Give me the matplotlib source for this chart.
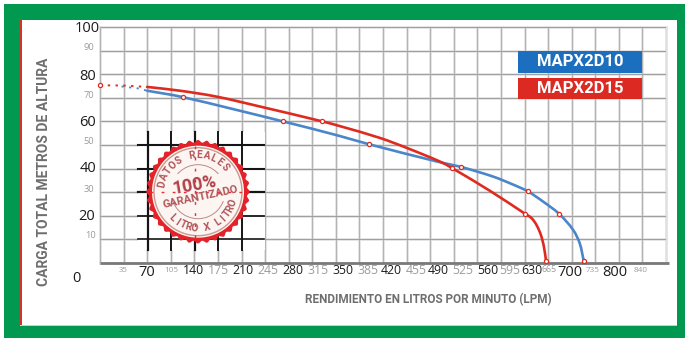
import numpy as np
import matplotlib
matplotlib.use("Agg")
import matplotlib.pyplot as plt
from matplotlib.patches import Rectangle, Circle, Polygon, PathPatch
from matplotlib.path import Path

# ---------- data ----------
blue_x = [70, 122.7, 271.5, 356, 399.5, 504.5, 536, 583.5, 610.8, 634.6, 657.7, 681.5, 702.2, 712, 718]
blue_y = [73, 70.3, 60, 53.8, 50.3, 42.7, 40.7, 36.6, 33.5, 30.4, 26, 20.8, 14, 8.3, 0.8]
red_x = [70, 118.7, 173, 237.4, 330, 356, 415.4, 455, 504.4, 522, 578.6, 630.6, 640.5, 648, 654.3, 658.8, 662]
red_y = [74.6, 73, 70.5, 66.3, 60, 58, 53, 48.8, 43, 40.3, 30.6, 20.9, 19, 16, 11.9, 6.9, 0.8]
blue_dot_x = [32, 44.5, 56, 70]
blue_dot_y = [74.8, 74.4, 74, 73]
red_dot_x = [0, 35, 70]
red_dot_y = [75.3, 75.2, 74.6]
marker_x = [0, 122.7, 271.5, 330, 399.5, 522, 536, 630.6, 634.6, 681.5, 662, 718]
marker_y = [75.3, 70.3, 60, 60, 50.3, 40.3, 40.7, 20.9, 30.4, 20.8, 0.8, 0.8]

x_grid = list(range(0, 841, 35))
y_grid = list(range(0, 101, 10))

x_labels = ["35", "70", "105", "140", "175", "210", "245", "280", "315", "350", "385", "420",
            "455", "490", "525", "560", "595", "630", "665", "700", "735", "800", "840"]
x_label_px = [123, 147, 171, 193, 218, 243, 268, 293, 318, 343, 368, 391,
              416, 438, 463, 488, 510, 532, 549, 570, 593, 615, 641]
x_label_size = [5.6, 10.5, 5.9, 8.8, 8.8, 8.8, 8.8, 8.8, 8.8, 8.8, 8.8, 8.8,
                8.8, 8.8, 8.8, 8.8, 8.8, 8.8, 6.4, 10.5, 5.9, 10.5, 5.9]
x_label_dark = [0, 1, 0, 1, 0, 1, 0, 1, 0, 1, 0, 1, 0, 1, 0, 1, 0, 1, 0, 1, 0, 1, 0]

y_labels = ["100", "90", "80", "70", "60", "50", "40", "30", "20", "10"]
y_label_py = [28, 48, 77, 95, 122, 141, 168, 190, 216, 235]
y_label_right = [100, 94, 96, 94, 96, 94, 96, 94, 95, 96]

legend_names = ["MAPX2D10", "MAPX2D15"]
legend_colors = ["#1b6fbe", "#dc2a22"]

GREEN = "#01994f"
BLUE = "#4a86c9"
RED = "#df2a20"
DARK = "#1c1c1c"
LIGHT = "#9c9c9c"
FONT = "Open Sans"

W, H = 685, 338
fig = plt.figure(figsize=(W / 100, H / 100), dpi=100, facecolor="white")

# background layer in pixel coordinates
bg = fig.add_axes([0, 0, 1, 1], zorder=0)
bg.set_xlim(0, W); bg.set_ylim(H, 0); bg.axis("off")
bg.add_patch(Rectangle((4, 4), W - 4, H - 4, fc=GREEN, ec="none"))
bg.add_patch(Rectangle((20, 20), 657, 306, fc="white", ec="none"))
bg.add_patch(Rectangle((20, 20), 1.6, 306, fc="#d9302a", ec="none"))
bg.add_patch(Rectangle((20, 325), 657, 1, fc="#e3c9a8", ec="none"))

# chart
ax = fig.add_axes([100 / W, (H - 263) / H, 566 / W, 236 / H], zorder=1)
ax.set_xlim(0, 840); ax.set_ylim(0, 100)
ax.patch.set_alpha(0)
for s in ax.spines.values():
    s.set_visible(False)
ax.set_xticks(x_grid); ax.set_yticks(y_grid)
ax.tick_params(length=0, labelbottom=False, labelleft=False)
ax.grid(True, color="#e0e0e0", lw=1.9, clip_on=False)
ax.set_axisbelow(True)
ax.vlines(x_grid, 0, 100, color="#ababab", lw=0.6, zorder=0.9)
ax.hlines(y_grid, 0, 840, color="#9e9e9e", lw=0.7, zorder=0.9)
ax.plot([0, 845], [0, 0], color="#7a7a7a", lw=2.0, clip_on=False, zorder=1.5, solid_capstyle="butt")


def smooth_line(xs, ys, color, lw, z):
    """Stroke the read points as one smooth path (Bezier segments through each point)."""
    sx, sy = 566 / 840, 236 / 100
    p = np.c_[np.array(xs) * sx, np.array(ys) * sy]
    d = np.r_[[p[1] - p[0]], p[2:] - p[:-2], [p[-1] - p[-2]]]
    d = d / np.linalg.norm(d, axis=1, keepdims=True)
    verts, codes = [p[0]], [Path.MOVETO]
    for i in range(len(p) - 1):
        L = np.linalg.norm(p[i + 1] - p[i]) / 3
        verts += [p[i] + d[i] * L, p[i + 1] - d[i + 1] * L, p[i + 1]]
        codes += [Path.CURVE4] * 3
    v = np.array(verts) / [sx, sy]
    ax.add_patch(PathPatch(Path(v, codes), fc="none", ec=color, lw=lw, capstyle="round", zorder=z))


smooth_line(blue_x, blue_y, BLUE, 1.9, 3)
smooth_line(red_x, red_y, RED, 1.9, 4)
ax.plot(blue_dot_x, blue_dot_y, color=BLUE, lw=1.3, ls=(0, (1.2, 3.0)), zorder=3)
ax.plot(red_dot_x, red_dot_y, color=RED, lw=1.4, ls=(0, (1.2, 2.8)), zorder=4)
ax.plot(marker_x, marker_y, ls="none", marker="o", ms=3.0, mfc="white", mec=RED, mew=0.9,
        zorder=5, clip_on=False)

# overlay layer for stamp and texts (pixel coordinates)
ov = fig.add_axes([0, 0, 1, 1], zorder=2)
ov.set_xlim(0, W); ov.set_ylim(H, 0); ov.axis("off"); ov.patch.set_alpha(0)

# stamp backdrop with black grid
ov.add_patch(Rectangle((138, 132), 127, 118, fc="white", ec="none", zorder=1))
for px, w in zip([147.7, 171.3, 195, 218.5, 242], [1.6, 1.4, 1.6, 1.4, 1.4]):
    ov.plot([px, px], [132, 250], color="#151515", lw=w, zorder=2)
for py, w in zip([145, 168.5, 192, 216, 239], [1.5, 1.5, 1.6, 1.3, 1.2]):
    ov.plot([138, 264], [py, py], color="#151515", lw=w, zorder=2)

cx, cy = 198, 191.7
t = np.linspace(0, 2 * np.pi, 361)
rr = 50.5 + 1.3 * np.cos(36 * t)
ov.add_patch(Polygon(np.c_[cx + rr * np.cos(t), cy + rr * np.sin(t)], closed=True,
                     fc="#e3222a", ec="none", zorder=3))
ov.add_patch(Circle((cx, cy), 46, fc="#fdf5f2", ec="none", zorder=4))
ov.add_patch(Circle((cx, cy), 44, fc="none", ec="#c99a90", lw=1.0, zorder=5))
ov.add_patch(Circle((cx, cy), 27, fc="none", ec="#b98c88", lw=0.7, zorder=5))
ov.add_patch(Rectangle((160, 174), 76, 27, fc="#fdf5f2", ec="none", zorder=5))
ov.plot([150, 246], [192, 192], color="#ea2a30", lw=1.0, ls=(0, (2, 6)), zorder=6)
ov.plot([195, 195], [146, 238], color="#ea2a30", lw=1.0, ls=(0, (2, 6)), zorder=6)


def arc_text(s, radius, start, end, bottom=False):
    angs = np.linspace(start, end, len(s))
    for ch, a in zip(s, angs):
        r = np.deg2rad(a)
        xp = cx + radius * np.cos(r)
        yp = cy - radius * np.sin(r)
        rot = a - 90 if not bottom else a + 90
        ov.text(xp, yp, ch, rotation=rot, rotation_mode="anchor", ha="center", va="center",
                fontsize=7.2, fontweight="bold", family="Roboto", color="#b0565a", zorder=7)


arc_text("DATOS REALES", 36.5, 168, 42)
arc_text("LITRO X LITRO", 36.5, 226, 342, bottom=True)
ov.text(195, 185, "100%", rotation=10, ha="center", va="center", fontsize=13, fontweight="bold",
        family="Roboto", color="#b23f48", zorder=7)
ov.text(200.5, 197, "GARANTIZADO", rotation=12, ha="center", va="center", fontsize=8, fontweight="bold",
        family="Roboto", color="#b0565a", zorder=7)

# tick labels
for lab, px, sz, dk in zip(x_labels, x_label_px, x_label_size, x_label_dark):
    py = 272 if sz > 10 else 270
    ov.text(px, py, lab, ha="center", va="center", fontsize=sz, family=FONT,
            color=DARK if dk else LIGHT, zorder=7)
for i, (lab, py, pr) in enumerate(zip(y_labels, y_label_py, y_label_right)):
    big = i % 2 == 0
    ov.text(pr, py, lab, ha="right", va="center", fontsize=10.5 if big else 6.7, family=FONT,
            color=DARK if big else LIGHT, zorder=7)
ov.text(76, 279, "0", ha="center", va="center", fontsize=10.5, family=FONT, color=DARK, zorder=7)

# axis titles
ov.text(44, 172, "CARGA TOTAL METROS DE ALTURA", rotation=90, ha="center", va="center",
        fontsize=10, fontweight="bold", family="Roboto", color="#6e6e6e", zorder=7)
ov.text(428, 300, "RENDIMIENTO EN LITROS POR MINUTO (LPM)", ha="center", va="center",
        fontsize=8.5, fontweight="bold", family="Roboto", color="#6e6e6e", zorder=7)

# legend
for name, col, top, h in zip(legend_names, legend_colors, [50.5, 77.5], [22, 21]):
    ov.add_patch(Rectangle((517.7, top), 124.5, h, fc=col, ec="none", zorder=6))
    ov.text(580, top + h / 2 + 0.5, name, ha="center", va="center", color="white", fontsize=12,
            fontweight="bold", family="Roboto", zorder=7)

fig.savefig("out.png", dpi=100)
